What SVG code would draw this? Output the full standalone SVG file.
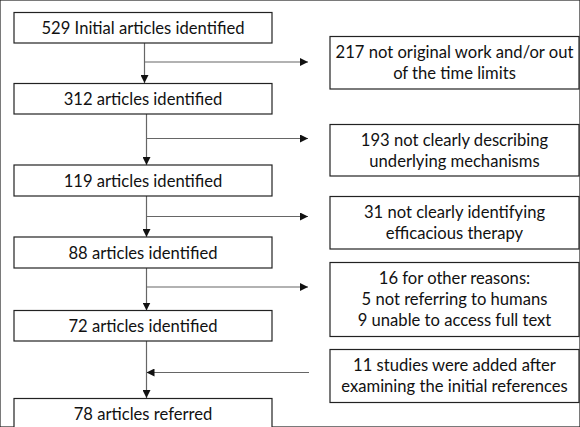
<svg xmlns="http://www.w3.org/2000/svg" width="580" height="427" viewBox="0 0 580 427">
<defs>
<marker id="ah" viewBox="0 0 10 10" refX="10" refY="5" markerWidth="8" markerHeight="8" markerUnits="userSpaceOnUse" orient="auto">
<path d="M0,0 L10,5 L0,10 Z" fill="#111"/>
</marker>
<style>
rect{fill:#fff;stroke:#222;stroke-width:1.2}
text{font-family:"Lato","Liberation Sans",sans-serif;font-size:16.6px;fill:#111;text-anchor:middle}
.c line{stroke:#666;stroke-width:1.2;fill:none}
</style>
</defs>
<rect width="580" height="427" fill="#fff" stroke="none"/>
<g class="c" id="connectors">
<line x1="144.5" y1="43" x2="144.5" y2="83" marker-end="url(#ah)"/>
<line x1="144.5" y1="62" x2="308" y2="62" marker-end="url(#ah)"/>
<line x1="146.5" y1="114" x2="146.5" y2="165" marker-end="url(#ah)"/>
<line x1="146.5" y1="138.5" x2="308" y2="138.5" marker-end="url(#ah)"/>
<line x1="146.5" y1="196" x2="146.5" y2="237" marker-end="url(#ah)"/>
<line x1="146.5" y1="216.5" x2="308" y2="216.5" marker-end="url(#ah)"/>
<line x1="146.5" y1="268" x2="146.5" y2="310.5" marker-end="url(#ah)"/>
<line x1="146.5" y1="287" x2="308" y2="287" marker-end="url(#ah)"/>
<line x1="146.5" y1="341" x2="146.5" y2="398" marker-end="url(#ah)"/>
<line x1="309" y1="372.5" x2="146.5" y2="372.5" marker-end="url(#ah)"/>
</g>
<g id="n1"><rect x="14" y="12.5" width="258" height="30.5"/><text x="143" y="33.5">529 Initial articles identified</text></g>
<g id="n2"><rect x="14" y="83.5" width="258" height="30.5"/><text x="143" y="104.5">312 articles identified</text></g>
<g id="n3"><rect x="14" y="165" width="258" height="31"/><text x="143" y="186.5">119 articles identified</text></g>
<g id="n4"><rect x="14" y="237" width="258" height="31"/><text x="143" y="258.5">88 articles identified</text></g>
<g id="n5"><rect x="14" y="310.5" width="258" height="30.5"/><text x="143" y="331.5">72 articles identified</text></g>
<g id="n6"><rect x="14" y="398.5" width="258" height="32"/><text x="143" y="419.5">78 articles referred</text></g>
<g id="e1"><rect x="330" y="36.5" width="249" height="52.5"/><text x="454.5" y="57.5">217 not original work and/or out</text><text x="454.5" y="78.5">of the time limits</text></g>
<g id="e2"><rect x="330" y="124.5" width="249" height="51.5"/><text x="454.5" y="145.5">193 not clearly describing</text><text x="454.5" y="166.5">underlying mechanisms</text></g>
<g id="e3"><rect x="330" y="196.5" width="249" height="52.5"/><text x="454.5" y="217.5">31 not clearly identifying</text><text x="454.5" y="238.5">efficacious therapy</text></g>
<g id="e4"><rect x="330" y="262.5" width="249" height="74"/><text x="454.5" y="284">16 for other reasons:</text><text x="454.5" y="305">5 not referring to humans</text><text x="454.5" y="326">9 unable to access full text</text></g>
<g id="e5"><rect x="330" y="349.5" width="249" height="53"/><text x="454.5" y="370.5">11 studies were added after</text><text x="454.5" y="391.5">examining the initial references</text></g>
</svg>
